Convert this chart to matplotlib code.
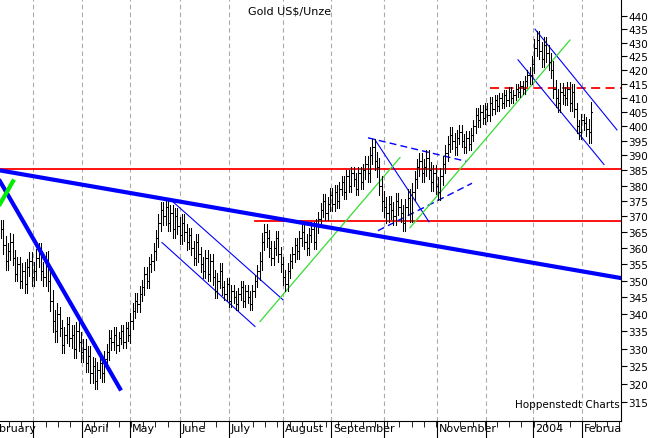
import numpy as np
import matplotlib
matplotlib.use("Agg")
import matplotlib.pyplot as plt
from matplotlib.ticker import FixedLocator, NullLocator, NullFormatter

# ---------------------------------------------------------------------------
# Data: daily closes (5 per week) and a typical daily range per week
# ---------------------------------------------------------------------------
closes = [
    366, 361, 356, 359, 362,  357, 352, 355, 350, 353,  349, 354, 356, 351, 353,
    357, 359, 353, 351, 356,  350, 344, 338, 335, 340,  336, 331, 334, 337, 333,
    334, 330, 335, 332, 329,  330, 326, 328, 323, 325,  321, 324, 326, 323, 327,
    329, 333, 332, 334, 331,  333, 335, 332, 336, 334,  338, 341, 344, 343, 346,
    348, 352, 350, 355, 356,  359, 363, 368, 372, 370,  373, 368, 371, 366, 370,
    367, 364, 368, 365, 362,  364, 360, 357, 362, 358,  355, 353, 357, 352, 356,
    351, 347, 350, 353, 348,  346, 349, 344, 347, 345,  343, 346, 348, 344, 347,
    345, 343, 347, 350, 353,  356, 362, 365, 363, 360,  357, 360, 363, 358, 355,
    351, 349, 353, 356, 358,  361, 359, 363, 365, 362,  360, 364, 366, 362, 367,
    369, 372, 375, 371, 374,  377, 374, 378, 375, 379,  381, 378, 383, 380, 384,
    382, 379, 384, 381, 385,  387, 384, 390, 393, 388,  386, 380, 375, 373, 371,
    374, 372, 370, 375, 373,  371, 368, 373, 376, 371,  378, 382, 386, 388, 384,
    386, 389, 385, 381, 384,  380, 378, 383, 387, 391,  394, 397, 395, 393, 396,
    398, 395, 393, 396, 394,  397, 400, 404, 402, 405,  403, 406, 404, 408, 406,
    409, 407, 410, 408, 411,  409, 412, 410, 411, 413,  412, 414, 413, 416, 418,
    418, 422, 428, 431, 427,  424, 429, 426, 423, 420,  413, 410, 408, 412, 411,
    410, 413, 408, 412, 406,  400, 398, 402, 401, 399,  398, 405,
]
week_range = [6, 5, 6, 6, 7, 5, 6, 6, 5, 5, 4, 5, 5, 6, 6, 6, 5, 5, 5, 4, 4, 4,
              6, 5, 5, 5, 5, 5, 5, 5, 5, 6, 7, 6, 6, 6, 6, 6, 6, 5, 5, 5, 4, 4,
              4, 7, 7, 7, 6, 5, 8]

month_pos = [33, 82, 130, 180, 229, 283, 331, 384, 437, 486, 533, 582]
month_labels = ["", "April", "May", "June", "July", "August", "September",
                "", "November", "", "2004", "Februa"]
y_ticks = list(range(315, 445, 5))

def pr(ypix):
    # reference pixel row -> price (log scale)
    return 435 * np.exp((26 - ypix) / 1171)

BAR_STEP = 2.35
fig = plt.figure(figsize=(6.69, 4.39), dpi=100)
ax = fig.add_axes([0, 17 / 439, 621 / 669, 1 - 17 / 439])
ax.set_yscale("log")
ax.set_xlim(0, 621)
ax.set_ylim(310, 446.5)

for i, c in enumerate(closes):
    x = 1 + i * BAR_STEP
    o = closes[i - 1] if i > 0 else c
    r = week_range[i // 5]
    hi = max(o, c) + r * 0.45
    lo = min(o, c) - r * 0.45
    ax.plot([x, x], [lo, hi], color="black", lw=0.75, zorder=3)
    ax.plot([x, x + 1.5], [c, c], color="black", lw=0.75, zorder=3)

for xm in month_pos:
    ax.axvline(xm, color="#aaaaaa", ls=(0, (4, 3)), lw=0.8, zorder=0)

def seg(x0, y0, x1, y1, **kw):
    ax.plot([x0, x1], [pr(y0), pr(y1)], **kw)

# thick blue trends and green cross
seg(0, 169, 621, 278, color="#0000ff", lw=3, zorder=4)
seg(0, 180, 120, 390, color="#0000ff", lw=3, zorder=4)
seg(0, 203, 13, 180, color="#00ee00", lw=3, zorder=4)
# red levels
seg(0, 168, 621, 168, color="red", lw=1.3, zorder=2)
seg(255, 220, 621, 220, color="red", lw=1.3, zorder=2)
seg(490, 86, 621, 86, color="red", lw=1.3, ls=(0, (5, 3)), zorder=2)
# thin blue channels
seg(171, 199, 283, 300, color="#0000ff", lw=0.8)
seg(162, 242, 255, 327, color="#0000ff", lw=0.8)
seg(375, 138, 429, 221, color="#0000ff", lw=0.8)
seg(535, 26, 617, 128, color="#0000ff", lw=0.8)
seg(518, 57, 604, 163, color="#0000ff", lw=0.8)
seg(368, 136, 467, 160, color="#0000ff", lw=1, ls=(0, (5, 3)))
seg(378, 230, 472, 182, color="#0000ff", lw=1, ls=(0, (5, 3)))
# green trends
seg(260, 322, 400, 156, color="#33dd33", lw=0.9)
seg(410, 227, 570, 37, color="#33dd33", lw=0.9)

ax.yaxis.tick_right()
ax.yaxis.set_major_locator(FixedLocator(y_ticks))
ax.yaxis.set_minor_locator(NullLocator())
ax.yaxis.set_minor_formatter(NullFormatter())
ax.set_yticklabels([str(v) for v in y_ticks], fontsize=7.5)
ax.tick_params(axis="y", direction="out", length=4, pad=1.5)

ax.set_xticks(month_pos)
ax.set_xticklabels([])
ax.tick_params(axis="x", direction="out", length=17, width=0.8)
ax.set_xticks(np.arange(9, 621, 12.2), minor=True)
ax.tick_params(axis="x", which="minor", direction="out", length=4)
for xm, lab in zip(month_pos, month_labels):
    ax.text(xm + 2, -0.005, lab, transform=ax.get_xaxis_transform(),
            fontsize=8, va="top", ha="left")
ax.text(-1, -0.005, "bruary", transform=ax.get_xaxis_transform(),
        fontsize=8, va="top", ha="left")

for s in ["top", "left"]:
    ax.spines[s].set_visible(False)

ax.text(6, 0.985, "www.buero-dr-schulz.de", transform=ax.transAxes, fontsize=7.5,
        va="top", ha="left", bbox=dict(facecolor="white", edgecolor="black", lw=0.8, pad=1.5))
ax.text(290 / 621, 0.985, "Gold US$/Unze", transform=ax.transAxes, fontsize=8,
        va="top", ha="center")
ax.text(515, pr(405), "Hoppenstedt Charts", fontsize=7.5, va="center", ha="left")

plt.savefig("out.png", dpi=100)
plt.close()
